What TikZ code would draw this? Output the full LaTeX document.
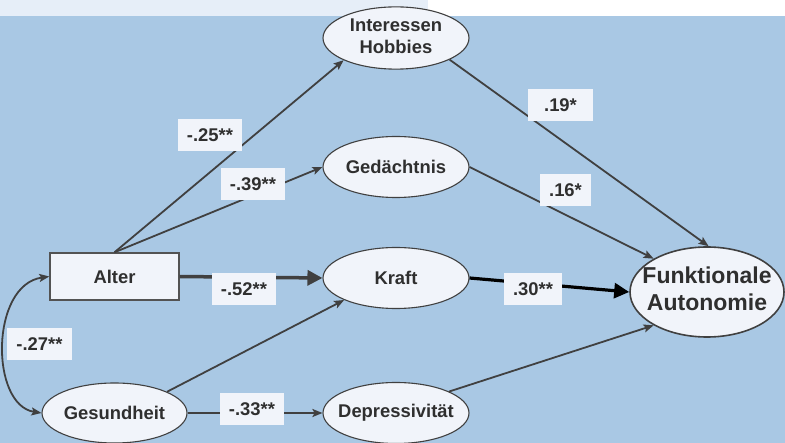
\documentclass[tikz,border=0pt]{standalone}
\usepackage{fontspec}
\setmainfont{Liberation Sans}
\usetikzlibrary{shapes.geometric,arrows.meta}
\definecolor{bgblue}{HTML}{A9C8E4}
\definecolor{topstrip}{HTML}{E6EEF8}
\definecolor{nodefill}{HTML}{F1F4FA}
\definecolor{linegray}{HTML}{404040}
\definecolor{textgray}{HTML}{2F2F2F}
\newcommand{\zw}[1]{\makebox[0pt]{#1}}
\newcommand{\zwtwo}[2]{\makebox[0pt]{\begin{tabular}{@{}c@{}}#1\\#2\end{tabular}}}
\tikzset{
  var/.style={ellipse, draw=linegray, line width=1.1pt, fill=nodefill, inner sep=0pt,
     minimum width=146pt, minimum height=61pt, text=textgray,
     font=\fontsize{18.4}{22}\selectfont\bfseries},
  boxvar/.style={rectangle, draw=linegray!90, line width=1.4pt, fill=nodefill, inner sep=0pt,
     minimum width=129pt, minimum height=47pt, text=textgray,
     font=\fontsize{18.4}{22}\selectfont\bfseries},
  coef/.style={rectangle, fill=nodefill, inner sep=0pt, minimum height=32pt, text=textgray,
     font=\fontsize{18.4}{22}\selectfont\bfseries},
  path/.style={draw=linegray, line width=1.8pt, -{Stealth[length=10pt,width=8pt,inset=2pt]}},
  bigpath/.style={draw=linegray, line width=3.5pt, -{Triangle[length=15pt,width=15pt]}},
  blackpath/.style={draw=black, line width=3.2pt, -{Triangle[length=15pt,width=15pt]}},
}
\begin{document}
\begin{tikzpicture}[x=1pt,y=-1pt]
\useasboundingbox (0,0) rectangle (785,443);
\fill[bgblue] (0,16) rectangle (785,443);
\fill[topstrip] (0,0) rectangle (428,16);
\fill[white] (428,0) rectangle (785,16);

\node[var] (int) at (396,38) {\zwtwo{Interessen}{Hobbies}};
\node[var] (ged) at (396,167) {\zw{Gedächtnis}};
\node[var] (kraft) at (396,278) {\zw{Kraft}};
\node[var] (dep) at (396,413) {\zw{Depressivität}};
\node[boxvar] (alter) at (114.5,276.5) {Alter};
\node[var, minimum width=145pt, minimum height=60pt] (ges) at (114.5,413) {\zw{Gesundheit}};
\node[var, minimum width=154pt, minimum height=90pt, line width=1.6pt,
      font=\fontsize{23}{27}\selectfont\bfseries] (fa) at (707,292) {\zwtwo{Funktionale}{Autonomie}};

\draw[path] (alter.north) -- (int.203);
\draw[path] (alter.north) -- (ged.west);
\draw[bigpath] (alter.east) -- (kraft.west);
\draw[path] (ges.22) -- (kraft.203);
\draw[path] (ges.east) -- (dep.west);
\draw[path] (int.-22) -- (fa.88);
\draw[path] (ged.east) -- (fa.148);
\draw[blackpath] (kraft.east) -- (fa.west);
\draw[path] (dep.22) -- (fa.212);
\draw[draw=linegray, line width=1.8pt, {Stealth[length=10pt,width=8pt,inset=2pt]}-{Stealth[length=10pt,width=8pt,inset=2pt]}]
  (alter.west) .. controls (-10,285) and (-10,405) .. (ges.west);

\node[coef, minimum width=64pt] (c1) at (210,135) {-.25**};
\node[coef, minimum width=64pt] (c2) at (253,184) {-.39**};
\node[coef, minimum width=65pt] (c3) at (560.5,105) {.19*};
\node[coef, minimum width=51pt] (c4) at (565.5,190) {.16*};
\node[coef, minimum width=64pt] (c5) at (244,289) {-.52**};
\node[coef, minimum width=65pt] (c6) at (39.5,344) {-.27**};
\node[coef, minimum width=64pt] (c7) at (252,409) {-.33**};
\node[coef, minimum width=58pt] (c8) at (533,289) {.30**};
\end{tikzpicture}
\end{document}
